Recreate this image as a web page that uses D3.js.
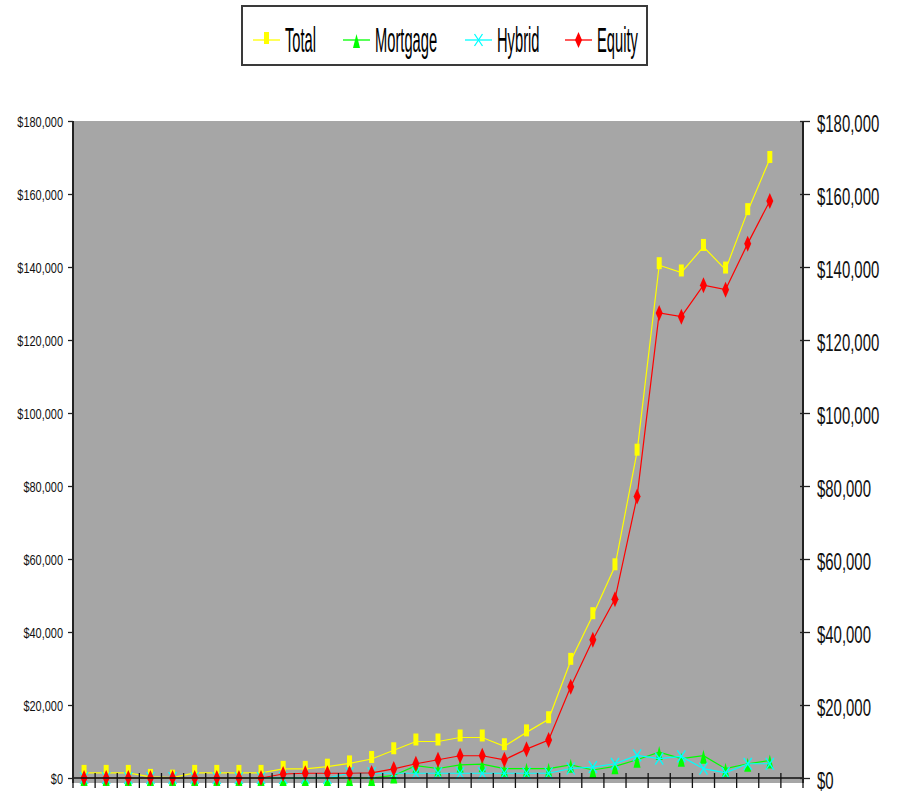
<!DOCTYPE html>
<html>
<head>
<meta charset="utf-8">
<script src="https://cdn.jsdelivr.net/npm/d3@7/dist/d3.min.js"></script>
<style>
  html, body { margin: 0; padding: 0; background: #fff; }
  svg { display: block; font-family: "Liberation Sans", Arial, sans-serif; }
</style>
</head>
<body>
<svg id="chart" width="901" height="798"></svg>
<script>
// Market capitalization by sector ($ millions), one value per year
const years = ["1971","1972","1973","1974","1975","1976","1977","1978","1979","1980",
               "1981","1982","1983","1984","1985","1986","1987","1988","1989","1990",
               "1991","1992","1993","1994","1995","1996","1997","1998","1999","2000",
               "2001","2002","2003"];

const total = [1400, 1400, 1400, 300, 100, 1400, 1400, 1400, 1400, 2500,
               2500, 3100, 4000, 5200, 7600, 10000, 10000, 11100, 11100, 8700,
               12500, 16100, 32100, 44600, 58000, 89400, 140500, 138500, 145500, 139300,
               155300, 169600, null];

const mortgage = [0, 0, 0, 0, 0, 0, 0, 0, 0, 0,
                  0, 0, 0, 0, 700, 3400, 2600, 3600, 3800, 2550,
                  2550, 2550, 3600, 2200, 3200, 5000, 7100, 5300, 6100, 2550,
                  3900, 4800, null];

const hybrid = [0, 0, 0, 0, 0, 0, 0, 0, 0, 0,
                0, 0, 1300, 1300, 1300, 1300, 1300, 1300, 1300, 1300,
                1300, 1300, 2600, 3000, 3900, 6200, 5300, 5900, 2550, 1400,
                3900, 3900, null];

const equity = [0, 0, 0, 0, 0, 0, 0, 0, 0, 1100,
                1300, 1300, 1300, 1400, 2500, 3900, 5000, 6100, 6100, 5000,
                7900, 10400, 25000, 37900, 49000, 77100, 127400, 126400, 135000, 133800,
                146400, 158100, null];

const yTicks = [0, 20000, 40000, 60000, 80000, 100000, 120000, 140000, 160000, 180000];

const seriesNames = ["Total", "Mortgage", "Hybrid", "Equity"];
const seriesValues = [total, mortgage, hybrid, equity];
const seriesColors = ["#ffff00", "#00ff00", "#00ffff", "#ff0000"];

const svg = d3.select("#chart");
const plot = { left: 73, right: 803, top: 121, zero: 778, bottom: 783 };

const x = d3.scaleBand().domain(years).range([plot.left, plot.right]).padding(0);
const y = d3.scaleLinear().domain([0, 180000]).range([plot.zero, plot.top]);

// plot area background
svg.append("rect")
  .attr("x", plot.left).attr("y", plot.top)
  .attr("width", plot.right - plot.left).attr("height", plot.bottom - plot.top)
  .attr("fill", "#a6a6a6");

// marker shapes, drawn around (0,0)
const markerPath = {
  Total:    "M-2.5,-8 h5 v12 h-5 Z",
  Mortgage: "M0,-6 L3.5,8 L-3.5,8 Z",
  Hybrid:   "M-4,-6 L4,6 M4,-6 L-4,6",
  Equity:   "M0,-8 L3.5,0 L0,8 L-3.5,0 Z"
};

function drawMarker(g, name, color) {
  const p = g.append("path").attr("d", markerPath[name]);
  if (name === "Hybrid") {
    p.attr("fill", "none").attr("stroke", color).attr("stroke-width", 1.3);
  } else {
    p.attr("fill", color).attr("stroke", "none");
  }
}

// series lines and markers
const cx = d => x(d) + x.bandwidth() / 2;
seriesNames.forEach((name, i) => {
  const vals = seriesValues[i];
  const pts = years.map((yr, j) => ({ yr, v: vals[j] })).filter(d => d.v !== null);
  const line = d3.line().x(d => cx(d.yr)).y(d => y(d.v));
  const g = svg.append("g");
  g.append("path").datum(pts)
    .attr("d", line)
    .attr("fill", "none")
    .attr("stroke", seriesColors[i])
    .attr("stroke-width", 1.2);
  pts.forEach(d => {
    const m = g.append("g").attr("transform", `translate(${cx(d.yr)},${y(d.v)})`);
    drawMarker(m, name, seriesColors[i]);
  });
});

// category axis: line at zero with ticks on band boundaries
const xAxis = svg.append("g");
xAxis.append("line")
  .attr("x1", plot.left).attr("x2", plot.right)
  .attr("y1", plot.zero).attr("y2", plot.zero)
  .attr("stroke", "#111").attr("stroke-width", 1.6);
const bounds = years.map(d => x(d)).concat([x.range()[1]]);
xAxis.selectAll("line.tick").data(bounds).join("line")
  .attr("class", "tick")
  .attr("x1", d => d).attr("x2", d => d)
  .attr("y1", plot.zero - 5).attr("y2", plot.zero + 10)
  .attr("stroke", "#111").attr("stroke-width", 1.3);

// value axes
const fmt = d3.format("$,");
const leftAxis = svg.append("g")
  .attr("transform", `translate(${plot.left},0)`)
  .call(d3.axisLeft(y).tickValues(yTicks).tickFormat(fmt).tickSizeInner(5).tickSizeOuter(0));
leftAxis.select(".domain")
  .attr("d", `M0,${plot.top}V${plot.bottom}`)
  .attr("stroke", "#222").attr("stroke-width", 2);
leftAxis.selectAll(".tick line").attr("stroke", "#222").attr("stroke-width", 1.3);
leftAxis.selectAll(".tick text")
  .attr("x", null)
  .attr("dy", "0.36em")
  .attr("transform", "translate(-10,0) scale(0.73,1)")
  .attr("font-size", 15)
  .attr("font-family", "Liberation Sans, Arial, sans-serif")
  .attr("fill", "#111");

const rightAxis = svg.append("g")
  .attr("transform", `translate(${plot.right},0)`)
  .call(d3.axisRight(y).tickValues(yTicks).tickFormat(fmt).tickSizeInner(7).tickSizeOuter(0));
rightAxis.select(".domain")
  .attr("d", `M0,${plot.top}V${plot.bottom}`)
  .attr("stroke", "#222").attr("stroke-width", 2);
rightAxis.selectAll(".tick line")
  .attr("x1", -3)
  .attr("stroke", "#222").attr("stroke-width", 1.3);
rightAxis.selectAll(".tick text")
  .attr("x", null)
  .attr("dy", "0.45em")
  .attr("transform", "translate(14,0) scale(0.65,1)")
  .attr("font-size", 23)
  .attr("font-family", "Liberation Sans, Arial, sans-serif")
  .attr("fill", "#111");

// legend
const legend = svg.append("g");
legend.append("rect")
  .attr("x", 242).attr("y", 6).attr("width", 405).attr("height", 59)
  .attr("fill", "#fff").attr("stroke", "#3a3a3a").attr("stroke-width", 2);
const legendX = [253, 343, 465, 565];
seriesNames.forEach((name, i) => {
  const lx = legendX[i];
  const g = legend.append("g");
  g.append("line")
    .attr("x1", lx).attr("x2", lx + 27)
    .attr("y1", 40).attr("y2", 40)
    .attr("stroke", seriesColors[i]).attr("stroke-width", 1.3);
  const m = g.append("g").attr("transform", `translate(${lx + 13.5},40)`);
  drawMarker(m, name, seriesColors[i]);
  g.append("text")
    .attr("transform", `translate(${lx + 32},52) scale(0.42,1)`)
    .attr("font-size", 35)
    .attr("fill", "#000")
    .text(name);
});
</script>
</body>
</html>
